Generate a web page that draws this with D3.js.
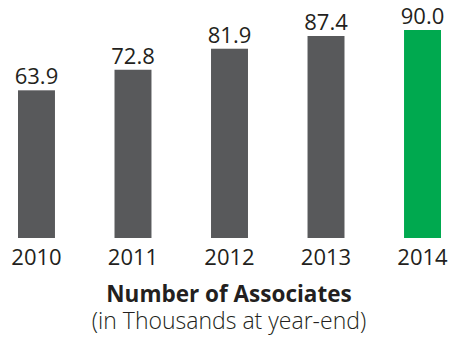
<!DOCTYPE html>
<html>
<head>
<meta charset="utf-8">
<script src="https://cdn.jsdelivr.net/npm/d3@7/dist/d3.min.js"></script>
<style>
  html, body { margin: 0; padding: 0; background: #fff; }
  svg { display: block; }
  text { font-family: "Open Sans", "Noto Sans", sans-serif; fill: #231f20; }
</style>
</head>
<body>
<svg id="chart" width="450" height="337"></svg>
<script>
// Associates at year-end, in thousands
const years = ["2010", "2011", "2012", "2013", "2014"];
const associates = [63.9, 72.8, 81.9, 87.4, 90.0];
const barColors = ["#58595b", "#58595b", "#58595b", "#58595b", "#00a94f"];
const title = "Number of Associates";
const subtitle = "(in Thousands at year-end)";

const svg = d3.select("#chart");

const x = d3.scaleBand()
  .domain(years)
  .range([18, 441])
  .paddingInner(0.617)
  .paddingOuter(0);

const y = d3.scaleLinear()
  .domain([0, 90])
  .range([238, 30]);

const data = years.map((yr, i) => ({ year: yr, value: associates[i], color: barColors[i] }));

// bars
svg.append("g")
  .selectAll("rect")
  .data(data)
  .join("rect")
  .attr("x", d => x(d.year))
  .attr("y", d => y(d.value))
  .attr("width", x.bandwidth())
  .attr("height", d => y(0) - y(d.value))
  .attr("fill", d => d.color);

// value labels above bars
svg.append("g")
  .selectAll("text")
  .data(data)
  .join("text")
  .attr("x", d => x(d.year) + x.bandwidth() / 2)
  .attr("y", d => y(d.value) - 6)
  .attr("text-anchor", "middle")
  .attr("font-size", 22)
  .text(d => d.value.toFixed(1));

// year axis
const xAxis = d3.axisBottom(x).tickSize(0).tickPadding(0);
const axisG = svg.append("g")
  .attr("transform", `translate(0,${y(0)})`)
  .call(xAxis);
axisG.select(".domain").remove();
axisG.selectAll("text")
  .attr("dy", null)
  .attr("y", 27)
  .attr("font-size", 22)
  .attr("font-family", null)
  .attr("fill", "#231f20");

// titles
svg.append("text")
  .attr("x", 229)
  .attr("y", 301.5)
  .attr("text-anchor", "middle")
  .attr("font-size", 22.5)
  .attr("font-weight", "bold")
  .text(title);

svg.append("text")
  .attr("x", 229)
  .attr("y", 329)
  .attr("text-anchor", "middle")
  .attr("font-size", 23)
  .attr("font-weight", 300)
  .text(subtitle);
</script>
</body>
</html>
